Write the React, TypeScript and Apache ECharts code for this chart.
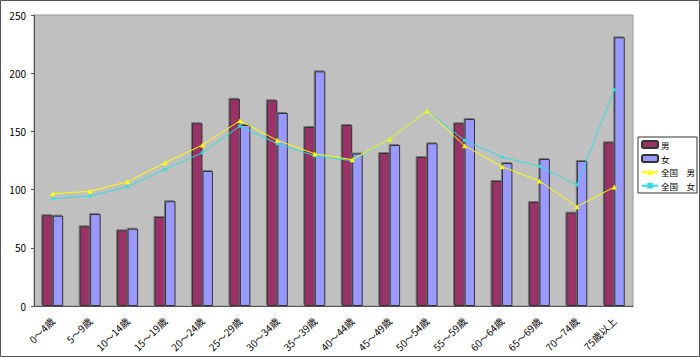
import React, { useEffect, useRef } from "react";
import * as echarts from "echarts";

const categories = [
  "0～4歳", "5～9歳", "10～14歳", "15～19歳", "20～24歳", "25～29歳", "30～34歳", "35～39歳",
  "40～44歳", "45～49歳", "50～54歳", "55～59歳", "60～64歳", "65～69歳", "70～74歳", "75歳以上",
];
const male = [78, 68.5, 65, 76.5, 157, 178, 176.7, 153.8, 155.5, 131.4, 128, 157, 107.4, 89.3, 80.2, 140.6];
const female = [77.6, 79, 66.4, 90, 116, 155.5, 165.8, 201.6, 131, 138.3, 139.8, 160.6, 122.8, 126.3, 124.6, 230.8];
const nationalMale = [96.5, 98.5, 106.8, 123.1, 138.3, 159.2, 142.3, 130.8, 125.7, 143.5, 167.5, 137.7, 119.7, 107.4, 85.3, 102.2];
const nationalFemale = [92.2, 94.5, 102.5, 117.4, 131.7, 154.6, 139.4, 129.1, 124.8, 143.5, 167.5, 142.3, 128, 120, 104, 185.8];
const yTicks = { min: 0, max: 250, interval: 50 };

const FONT = "'Noto Sans CJK JP', 'Noto Sans', sans-serif";

export default function App() {
  const ref = useRef<HTMLDivElement>(null);
  useEffect(() => {
    document.body.style.margin = "0";
    const chart = echarts.init(ref.current!, null, { renderer: "svg" });
    const barShadow = {
      borderColor: "#333333",
      borderWidth: 1,
      shadowColor: "rgba(110,110,110,0.9)",
      shadowBlur: 0,
      shadowOffsetX: -1,
      shadowOffsetY: -1,
    };
    chart.setOption({
      animation: false,
      backgroundColor: "#ffffff",
      textStyle: { fontFamily: FONT },
      graphic: [
        {
          type: "rect",
          shape: { x: 0.5, y: 0.5, width: 699, height: 356 },
          style: { fill: "none", stroke: "#555555", lineWidth: 1 },
          silent: true,
          z: 100,
        },
      ],
      grid: {
        left: 34,
        top: 15,
        width: 599,
        height: 291,
        show: true,
        backgroundColor: "#C0C0C0",
        borderColor: "#999999",
        borderWidth: 1,
      },
      legend: {
        orient: "vertical",
        left: 638,
        top: 137,
        padding: [3, 2, 3, 3],
        itemGap: 5,
        itemWidth: 16,
        itemHeight: 7,
        borderColor: "#333333",
        borderWidth: 1,
        backgroundColor: "#ffffff",
        textStyle: { fontSize: 8.5, color: "#000", fontFamily: FONT, padding: [0, 0, 0, -2] },
        data: [
          { name: "男" },
          { name: "女" },
          { name: "全国　男" },
          { name: "全国　女" },
        ],
      },
      xAxis: {
        type: "category",
        data: categories,
        axisLine: { lineStyle: { color: "#555555" } },
        axisTick: { inside: true, length: 3, lineStyle: { color: "#666666" } },
        axisLabel: {
          rotate: 45,
          fontSize: 10,
          color: "#000",
          margin: 13,
          interval: 0,
          fontFamily: FONT,
        },
      },
      yAxis: {
        type: "value",
        min: yTicks.min,
        max: yTicks.max,
        interval: yTicks.interval,
        splitLine: { show: false },
        axisLine: { show: true, lineStyle: { color: "#555555" } },
        axisTick: { show: true, length: 3, lineStyle: { color: "#555555" } },
        axisLabel: { fontSize: 10, color: "#000", margin: 8, fontFamily: FONT },
      },
      series: [
        {
          name: "男",
          type: "bar",
          data: male,
          barGap: "0%",
          barCategoryGap: "44%",
          itemStyle: { color: "#993366", ...barShadow },
        },
        {
          name: "女",
          type: "bar",
          data: female,
          itemStyle: { color: "#9999FF", ...barShadow },
        },
        {
          name: "全国　男",
          type: "line",
          data: nationalMale,
          symbol: "triangle",
          symbolSize: 5,
          lineStyle: { color: "#FFFF00", width: 1 },
          itemStyle: { color: "#FFFF00" },
          z: 5,
        },
        {
          name: "全国　女",
          type: "line",
          data: nationalFemale,
          symbol: "rect",
          symbolSize: 3,
          lineStyle: { color: "#33DDDD", width: 1 },
          itemStyle: { color: "#33DDDD" },
          z: 4,
        },
      ],
    });
    return () => chart.dispose();
  }, []);
  return <div ref={ref} style={{ width: 700, height: 357 }} />;
}
